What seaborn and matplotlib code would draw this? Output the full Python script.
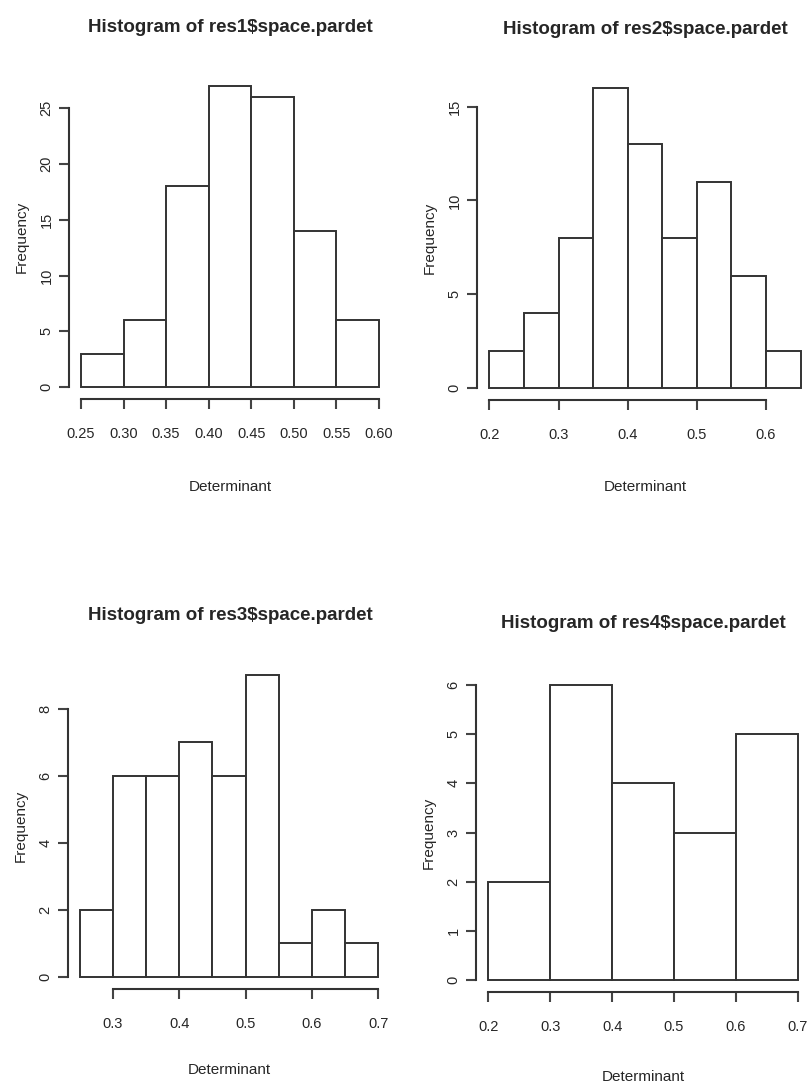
import matplotlib.pyplot as plt
import seaborn as sns
import pandas as pd
import numpy as np

sns.set_style("white")
plt.rcParams['font.family'] = ['Liberation Sans Narrow', 'Liberation Sans', 'DejaVu Sans']

# bin edges and counts
edges1 = [0.25, 0.30, 0.35, 0.40, 0.45, 0.50, 0.55, 0.60]
counts1 = [3, 6, 18, 27, 26, 14, 6]
edges2 = [0.20, 0.25, 0.30, 0.35, 0.40, 0.45, 0.50, 0.55, 0.60, 0.65]
counts2 = [2, 4, 8, 16, 13, 8, 11, 6, 2]
edges3 = [0.25, 0.30, 0.35, 0.40, 0.45, 0.50, 0.55, 0.60, 0.65, 0.70]
counts3 = [2, 6, 6, 7, 6, 9, 1, 2, 1]
edges4 = [0.2, 0.3, 0.4, 0.5, 0.6, 0.7]
counts4 = [2, 6, 4, 3, 5]

xticks1 = [0.25, 0.30, 0.35, 0.40, 0.45, 0.50, 0.55, 0.60]
xticks2 = [0.2, 0.3, 0.4, 0.5, 0.6]
xticks3 = [0.3, 0.4, 0.5, 0.6, 0.7]
xticks4 = [0.2, 0.3, 0.4, 0.5, 0.6, 0.7]
yticks1 = [0, 5, 10, 15, 20, 25]
yticks2 = [0, 5, 10, 15]
yticks3 = [0, 2, 4, 6, 8]
yticks4 = [0, 1, 2, 3, 4, 5, 6]

titles = ["Histogram of res1\\$space.pardet", "Histogram of res2\\$space.pardet",
          "Histogram of res3\\$space.pardet", "Histogram of res4\\$space.pardet"]

W, H = 810, 1086
fig = plt.figure(figsize=(W / 100, H / 100), dpi=100)

# pixel boxes (left, top, right, bottom) of each plot region
boxes = [(69, 74, 391, 399), (477, 76, 813, 400), (68, 663, 390, 989), (476, 673, 810, 992)]
title_pos = [(230, 28), (645, 30), (230, 615), (643, 623)]
xlab_y = [487, 487, 1070, 1077]

panels = [
    (edges1, counts1, xticks1, yticks1, "%.2f"),
    (edges2, counts2, xticks2, yticks2, "%.1f"),
    (edges3, counts3, xticks3, yticks3, "%.1f"),
    (edges4, counts4, xticks4, yticks4, "%.1f"),
]

for i, (edges, counts, xt, yt, fmt) in enumerate(panels):
    l, t, r, b = boxes[i]
    ax = fig.add_axes([l / W, 1 - b / H, (r - l) / W, (b - t) / H])
    e = np.array(edges)
    df = pd.DataFrame({"mid": (e[:-1] + e[1:]) / 2, "n": counts})
    sns.histplot(data=df, x="mid", weights="n", bins=list(edges), ax=ax, color='white',
                 edgecolor='#333333', linewidth=1.4, alpha=1)
    xr = edges[-1] - edges[0]
    ymax = max(counts)
    ax.set_xlim(edges[0] - 0.04 * xr, edges[-1] + 0.04 * xr)
    ax.set_ylim(-0.04 * ymax, ymax * 1.04)

    for s in ['top', 'right']:
        ax.spines[s].set_visible(False)
    ax.spines['left'].set_bounds(yt[0], yt[-1])
    ax.spines['bottom'].set_bounds(xt[0], xt[-1])
    for s in ['left', 'bottom']:
        ax.spines[s].set_color('#333333')
        ax.spines[s].set_linewidth(1.5)
    ax.set_xticks(xt)
    ax.set_xticklabels([fmt % v for v in xt], fontsize=10.5)
    ax.set_yticks(yt)
    ax.set_yticklabels([str(v) for v in yt], fontsize=10.5, rotation=90, va='center')
    ax.tick_params(axis='both', bottom=True, left=True, length=7, width=1.5,
                   color='#444444', direction='out')
    ax.tick_params(axis='y', pad=4)
    ax.tick_params(axis='x', pad=13)
    ax.set_xlabel("")
    ax.set_ylabel("")
    ax.grid(False)

    fig.text(title_pos[i][0] / W, 1 - title_pos[i][1] / H, titles[i],
             ha='center', va='center', fontsize=13.5, fontweight='bold')
    fig.text((l + r) / 2 / W, 1 - xlab_y[i] / H, "Determinant",
             ha='center', va='center', fontsize=11)
    fig.text((l - 47) / W, 1 - (t + b) / 2 / H, "Frequency", rotation=90,
             ha='center', va='center', fontsize=11)

fig.savefig("out.png", dpi=100)
